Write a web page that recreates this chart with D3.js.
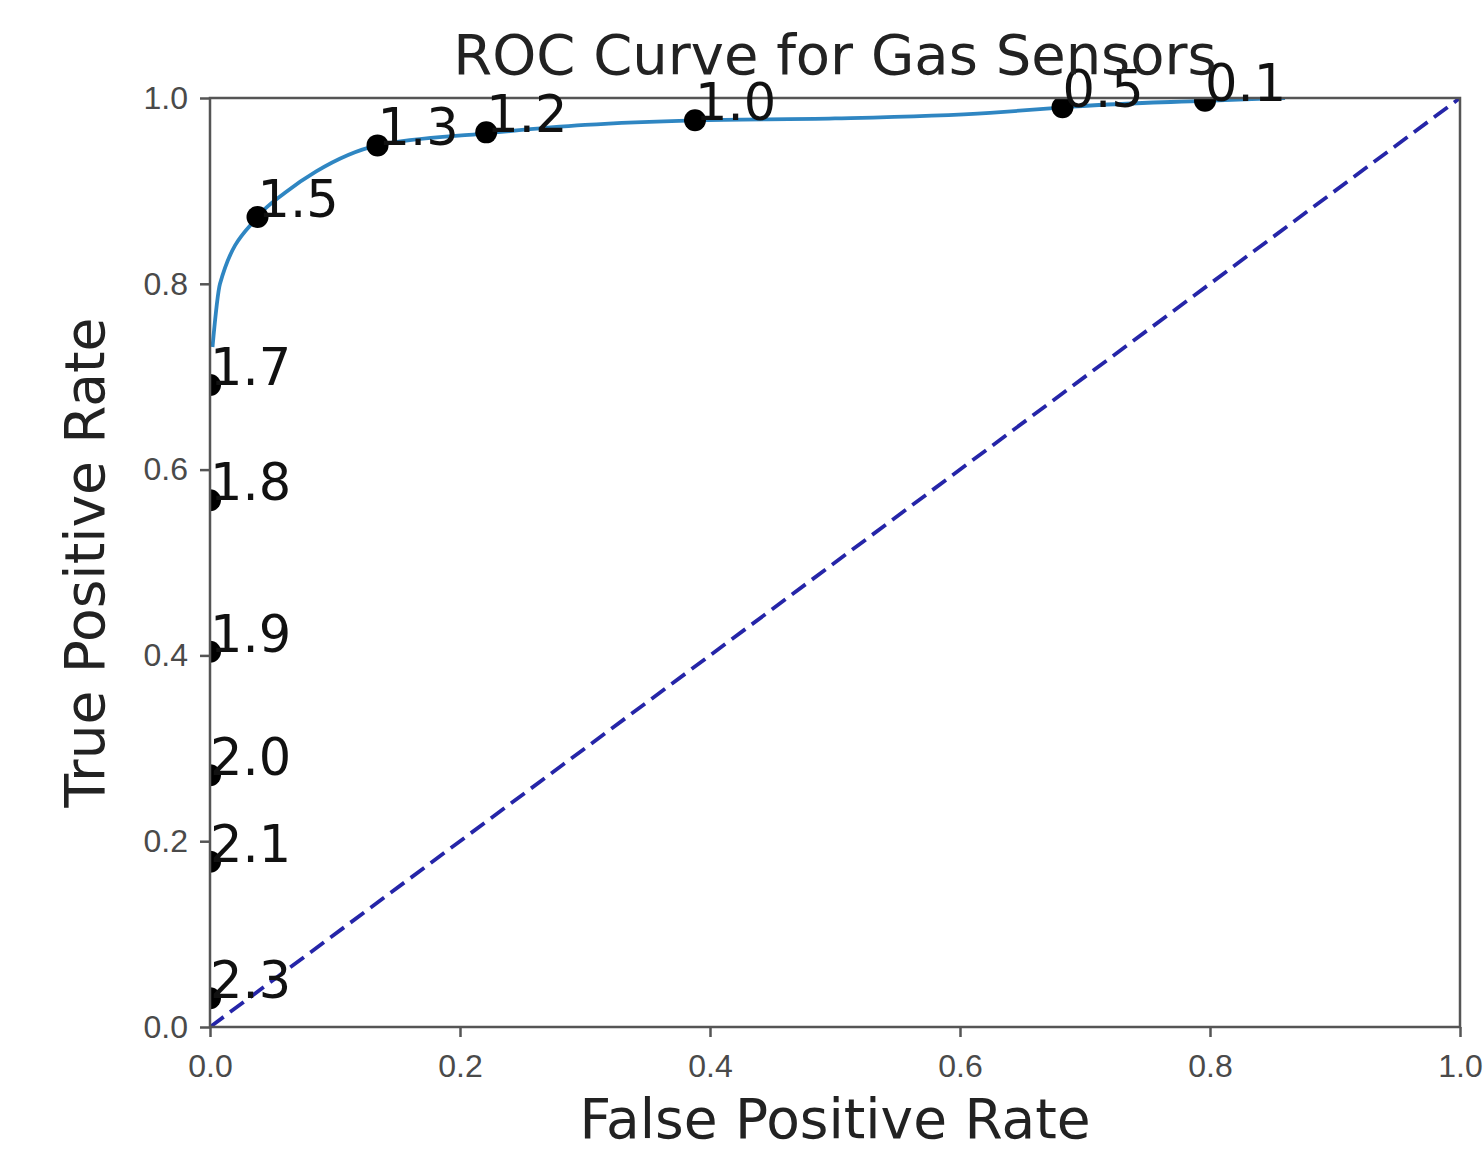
<!DOCTYPE html>
<html>
<head>
<meta charset="utf-8">
<script src="https://cdn.jsdelivr.net/npm/d3@7"></script>
<style>
  body { margin: 0; background: #fff; }
  svg { font-family: "DejaVu Sans", sans-serif; }
  .tick text { fill: #4a4a4a; font-size: 32px; }
  .tick line { stroke: #555; stroke-width: 2.5; }
  .domain { stroke: none; }
</style>
</head>
<body>
<div id="wrapper"></div>
<script>
// thresholds and the rates they give
const thresholds = ["0.1", "0.5", "1.0", "1.2", "1.3", "1.5", "1.7", "1.8", "1.9", "2.0", "2.1", "2.3"]
const fprValues = [0.796, 0.682, 0.388, 0.221, 0.134, 0.038, 0.0, 0.0, 0.0, 0.0, 0.0, 0.0]
const tprValues = [0.997, 0.990, 0.976, 0.963, 0.949, 0.872, 0.691, 0.567, 0.404, 0.271, 0.178, 0.031]

// smoothed curve
const curveFpr = [0.002, 0.008, 0.038, 0.06, 0.085, 0.134, 0.221, 0.30, 0.388, 0.50, 0.624, 0.664, 0.682, 0.796, 0.86]
const curveTpr = [0.732, 0.80, 0.872, 0.898, 0.921, 0.949, 0.962, 0.971, 0.976, 0.978, 0.984, 0.988, 0.990, 0.997, 1.0]

const tickValues = [0, 0.2, 0.4, 0.6, 0.8, 1.0]

const dimensions = {
  width: 1484,
  height: 1150,
  margin: { top: 98, right: 24, bottom: 123, left: 210 },
}
dimensions.boundedWidth = dimensions.width - dimensions.margin.left - dimensions.margin.right
dimensions.boundedHeight = dimensions.height - dimensions.margin.top - dimensions.margin.bottom

function drawRoc() {
  const svg = d3.select("#wrapper")
    .append("svg")
      .attr("width", dimensions.width)
      .attr("height", dimensions.height)

  const bounds = svg.append("g")
    .attr("transform", `translate(${dimensions.margin.left},${dimensions.margin.top})`)

  const x = d3.scaleLinear().domain([0, 1]).range([0, dimensions.boundedWidth])
  const y = d3.scaleLinear().domain([0, 1]).range([dimensions.boundedHeight, 0])

  bounds.append("clipPath").attr("id", "clip")
    .append("rect")
      .attr("width", dimensions.boundedWidth)
      .attr("height", dimensions.boundedHeight)

  const plot = bounds.append("g").attr("clip-path", "url(#clip)")

  // chance line
  plot.append("line")
    .attr("x1", x(0)).attr("y1", y(0))
    .attr("x2", x(1)).attr("y2", y(1))
    .attr("stroke", "#2525a8")
    .attr("stroke-width", 3.8)
    .attr("stroke-dasharray", "17,8")

  // roc curve
  const curveData = curveFpr.map((f, i) => [f, curveTpr[i]])
  plot.append("path")
    .datum(curveData)
    .attr("fill", "none")
    .attr("stroke", "#2f86c2")
    .attr("stroke-width", 3.8)
    .attr("d", d3.line()
      .x(d => x(d[0]))
      .y(d => y(d[1]))
      .curve(d3.curveMonotoneX))

  const points = thresholds.map((t, i) => ({ label: t, fpr: fprValues[i], tpr: tprValues[i] }))

  plot.selectAll("circle")
    .data(points)
    .enter().append("circle")
      .attr("cx", d => x(d.fpr))
      .attr("cy", d => y(d.tpr))
      .attr("r", 11)
      .attr("fill", "#000")

  // spines
  bounds.append("rect")
    .attr("width", dimensions.boundedWidth)
    .attr("height", dimensions.boundedHeight)
    .attr("fill", "none")
    .attr("stroke", "#555")
    .attr("stroke-width", 2.5)

  // axes
  bounds.append("g")
    .attr("transform", `translate(0,${dimensions.boundedHeight})`)
    .call(d3.axisBottom(x)
      .tickValues(tickValues)
      .tickFormat(d3.format(".1f"))
      .tickSize(10)
      .tickPadding(17))

  bounds.append("g")
    .call(d3.axisLeft(y)
      .tickValues(tickValues)
      .tickFormat(d3.format(".1f"))
      .tickSize(10)
      .tickPadding(12))

  // threshold labels
  bounds.selectAll(".pt-label")
    .data(points)
    .enter().append("text")
      .attr("class", "pt-label")
      .attr("x", d => x(d.fpr))
      .attr("y", d => y(d.tpr))
      .attr("font-size", 51)
      .attr("fill", "#111")
      .text(d => d.label)

  // labels
  svg.append("text")
    .attr("x", dimensions.margin.left + dimensions.boundedWidth / 2)
    .attr("y", 74)
    .attr("text-anchor", "middle")
    .attr("font-size", 56)
    .attr("fill", "#222")
    .text("ROC Curve for Gas Sensors")

  svg.append("text")
    .attr("x", dimensions.margin.left + dimensions.boundedWidth / 2)
    .attr("y", 1138)
    .attr("text-anchor", "middle")
    .attr("font-size", 55)
    .attr("fill", "#222")
    .text("False Positive Rate")

  svg.append("text")
    .attr("transform", `translate(104,${dimensions.margin.top + dimensions.boundedHeight / 2}) rotate(-90)`)
    .attr("text-anchor", "middle")
    .attr("font-size", 55)
    .attr("fill", "#222")
    .text("True Positive Rate")
}

drawRoc()
</script>
</body>
</html>
